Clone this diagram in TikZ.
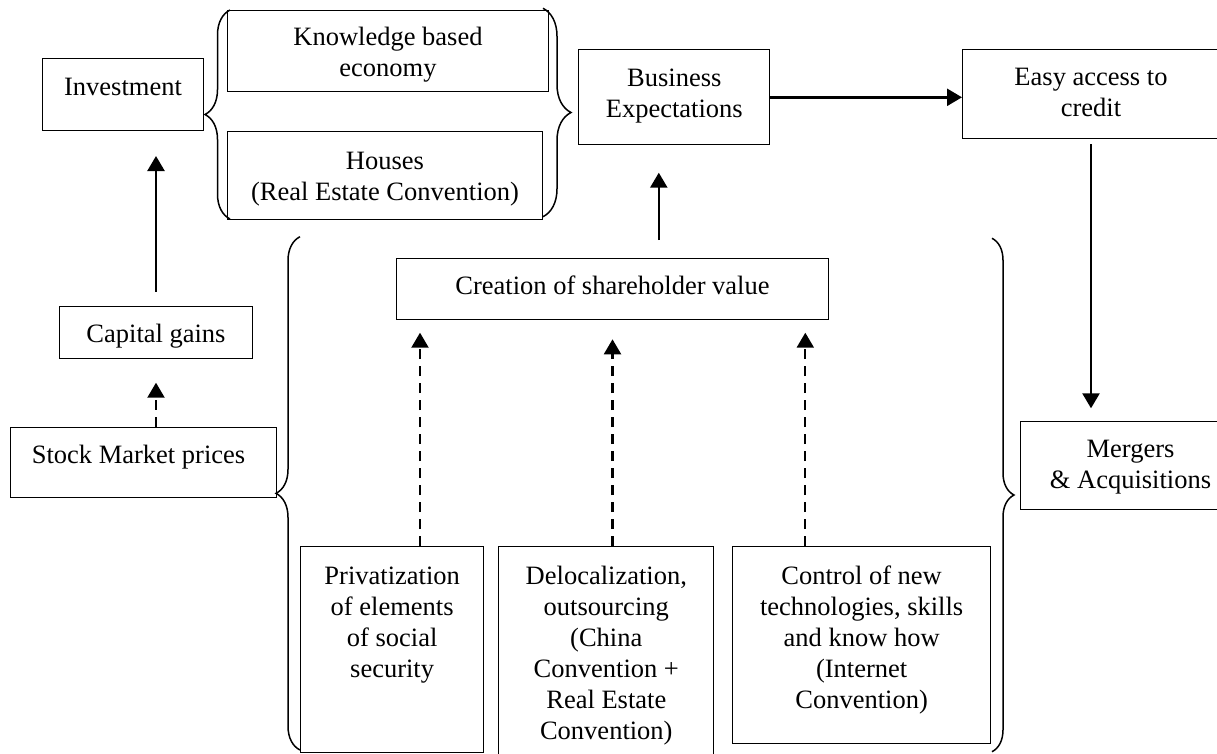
\documentclass[tikz,border=0pt]{standalone}
\usepackage{fontspec}
\setmainfont{Liberation Serif}
\usetikzlibrary{positioning, arrows.meta, decorations.pathreplacing}
\newcommand{\boxtext}[4]{\parbox[c][#2pt][t]{#1pt}{\centering\vspace*{#3pt}\strut #4}}
\tikzset{
  box/.style={draw, line width=1pt, inner sep=0pt, anchor=north west, font=\fontsize{26.5}{31}\selectfont},
  flow/.style={-{Triangle[length=15pt, width=17pt]}, line width=2.4pt},
  dashed flow/.style={flow, line width=2.2pt, dash pattern=on 10pt off 7pt},
  brace line/.style={decorate, decoration={brace, amplitude=#1}, line width=1.5pt}
}

\begin{document}
\begin{tikzpicture}[x=1pt, y=-1pt]
    \useasboundingbox (0,0) rectangle (1217,753);
    \clip (0,0) rectangle (1217,753);

    % Top row
    \node[box] (invest) at (41.7,58.3) {\boxtext{161.6}{71.7}{14.5}{Investment}};
    \node[box] (know) at (227.3,10) {\boxtext{320.4}{81}{13.5}{Knowledge based\\economy}};
    \node[box] (house) at (227.3,130.7) {\boxtext{314.4}{88.3}{16.1}{Houses\\(Real Estate Convention)}};
    \node[box] (busi) at (578.3,49.3) {\boxtext{191}{95}{14.8}{Business\\Expectations}};
    \node[box] (easy) at (962,49) {\boxtext{257}{89.3}{14.5}{Easy access to\\credit}};

    % Middle
    \node[box] (creat) at (395.7,258.3) {\boxtext{432.6}{61}{13.5}{Creation of shareholder value}};
    \node[box] (capital) at (59.3,306) {\boxtext{192.4}{51.7}{14.1}{Capital gains}};
    \node[box] (stock) at (10,426.7) {\boxtext{266}{70.6}{14.1}{Stock Market prices\hspace*{10pt}}};
    \node[box] (merg) at (1020,420.7) {\boxtext{220}{88.3}{14.4}{Mergers\\\& Acquisitions}};

    % Bottom row
    \node[box] (priv) at (300,546) {\boxtext{183.3}{205.7}{15.8}{Privatization\\of elements\\of social\\security}};
    \node[box] (deloc) at (498.3,546) {\boxtext{215}{214}{15.8}{Delocalization,\\outsourcing\\(China\\Convention +\\Real Estate\\Convention)}};
    \node[box] (ctrl) at (732.3,546) {\boxtext{257.7}{197.3}{15.8}{Control of new\\technologies, skills\\and know how\\(Internet\\Convention)}};

    % Braces
    \draw[brace line=25pt] (230,219) -- (230,10);
    \draw[brace line=28pt] (543,8.3) -- (543,216.7);
    \draw[brace line=24pt] (300,750) -- (300,236.7);
    \draw[brace line=22pt] (992,238.3) -- (992,751.7);

    % Arrows
    \draw[flow, shorten <=14.3pt, shorten >=25pt] (capital.north) -- (capital.north |- invest.south);
    \draw[dashed flow, shorten >=24pt] (capital.south |- stock.north) -- (capital.south);
    \draw[flow] (busi.east) -- (busi.east -| easy.west);
    \draw[flow, shorten <=18.3pt, shorten >=27.4pt] ([xshift=-15.5pt]busi.south |- creat.north) -- ([xshift=-15.5pt]busi.south);
    \draw[flow, shorten <=5pt, shorten >=12.4pt] (easy.south) -- (easy.south |- merg.north);
    \draw[dashed flow, shorten >=12.4pt] ([xshift=24.3pt]creat.south west |- priv.north) -- ([xshift=24.3pt]creat.south west);
    \draw[dashed flow, shorten >=19pt] (creat.south |- deloc.north) -- (creat.south);
    \draw[dashed flow, shorten >=12.4pt] ([xshift=-24pt]creat.south east |- ctrl.north) -- ([xshift=-24pt]creat.south east);
\end{tikzpicture}
\end{document}
